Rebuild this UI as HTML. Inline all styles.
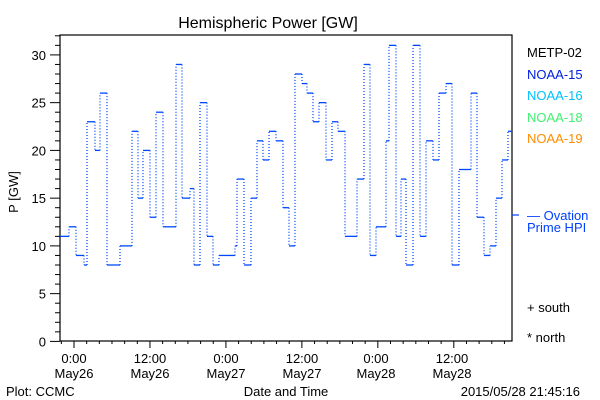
<!DOCTYPE html>
<html><head><meta charset="utf-8"><style>
html,body{margin:0;padding:0;background:#fff}
svg{display:block}
text{font-family:"Liberation Sans",sans-serif;}
</style></head><body>
<svg id="s" width="600" height="400" xmlns="http://www.w3.org/2000/svg">
<rect width="600" height="400" fill="#fff"/>
<text x="268" y="28" font-size="16" text-anchor="middle">Hemispheric Power [GW]</text>
<g id="ax" stroke="#000" stroke-width="1.2" fill="none"><rect x="60" y="35" width="452" height="306"/></g>
<g id="tk" stroke="#000" stroke-width="1"></g>
<g font-size="13" text-anchor="end" id="yl"></g>
<text transform="translate(18,192) rotate(-90)" font-size="13" text-anchor="middle">P [GW]</text>
<g font-size="13" text-anchor="middle">
<text x="74" y="363">0:00</text><text x="74" y="378">May26</text>
<text x="150" y="363">12:00</text><text x="150" y="378">May26</text>
<text x="226" y="363">0:00</text><text x="226" y="378">May27</text>
<text x="302" y="363">12:00</text><text x="302" y="378">May27</text>
<text x="376" y="363">0:00</text><text x="376" y="378">May28</text>
<text x="452" y="363">12:00</text><text x="452" y="378">May28</text>
<text x="286" y="396">Date and Time</text>
</g>
<text x="6" y="396" font-size="13">Plot: CCMC</text>
<text x="580" y="396" font-size="13" text-anchor="end">2015/05/28 21:45:16</text>
<g font-size="13">
<text x="527" y="57" fill="#000">METP-02</text>
<text x="527" y="79" fill="#0020e0">NOAA-15</text>
<text x="527" y="100" fill="#00c0ff">NOAA-16</text>
<text x="527" y="122" fill="#40f070">NOAA-18</text>
<text x="527" y="143" fill="#ff8c00">NOAA-19</text>
<text x="527" y="220" fill="#0040ff">— Ovation</text>
<text x="527" y="232" fill="#0040ff">Prime HPI</text>
<text x="527" y="312" fill="#000">+ south</text>
<text x="527" y="342" fill="#000">* north</text>
</g>
<line x1="512" y1="215" x2="519" y2="215" stroke="#0040ff" stroke-width="1.2"/>
<g id="d"></g>
</svg>
<script>
var ns="http://www.w3.org/2000/svg";
function L(g,x1,y1,x2,y2,c,w,da){var l=document.createElementNS(ns,"line");l.setAttribute("x1",x1);l.setAttribute("y1",y1);l.setAttribute("x2",x2);l.setAttribute("y2",y2);l.setAttribute("stroke",c);l.setAttribute("stroke-width",w);if(da)l.setAttribute("stroke-dasharray",da);g.appendChild(l);}
var tk=document.getElementById("tk"),yl=document.getElementById("yl");
function Y(v){return 341.4-v*9.55;}
for(var v=0;v<=32;v++){var y=Y(v);L(tk,v%5==0?50:55,y,60,y,"#000",1);
 if(v%5==0){var t=document.createElementNS(ns,"text");t.setAttribute("x",46);t.setAttribute("y",y+5);t.textContent=v;yl.appendChild(t);}}
for(var h=-2;h<=69;h+=2){var x=74+h*6.33;if(x<60||x>512)continue;L(tk,x,341,x,h%12==0?348:344,"#000",1);}
var D=[[60,11],[69,12],[76,9],[84,8],[87,23],[95,20],[100,26],[107,8],[120,10],[132,22],[138,15],[143,20],[150,13],[156,24],[163,12],[176,29],[182,15],[190,16],[194,8],[200,25],[207,11],[213,8],[219,9],[235,10],[237,17],[244,8],[251,15],[257,21],[263,19],[269,22],[276,21],[283,14],[289,10],[295,28],[302,27],[307,26],[313,23],[319,25],[326,19],[332,23],[338,22],[345,11],[357,17],[364,29],[370,9],[376,12],[386,21],[389,31],[396,11],[401,17],[406,8],[413,31],[420,11],[426,21],[433,19],[439,26],[446,27],[452,8],[459,18],[471,26],[477,13],[484,9],[490,10],[496,15],[502,19],[508,22],[512,22]];
var g=document.getElementById("d"),c="#0048ff";
for(var i=0;i<D.length-1;i++){var x1=D[i][0],x2=D[i+1][0],y=Y(D[i][1]);
 L(g,x1,y,x2,y,c,1.3);
 if(i<D.length-2){L(g,x2,y,x2,Y(D[i+1][1]),c,1.3,"1 2");}}
</script>
</body></html>
